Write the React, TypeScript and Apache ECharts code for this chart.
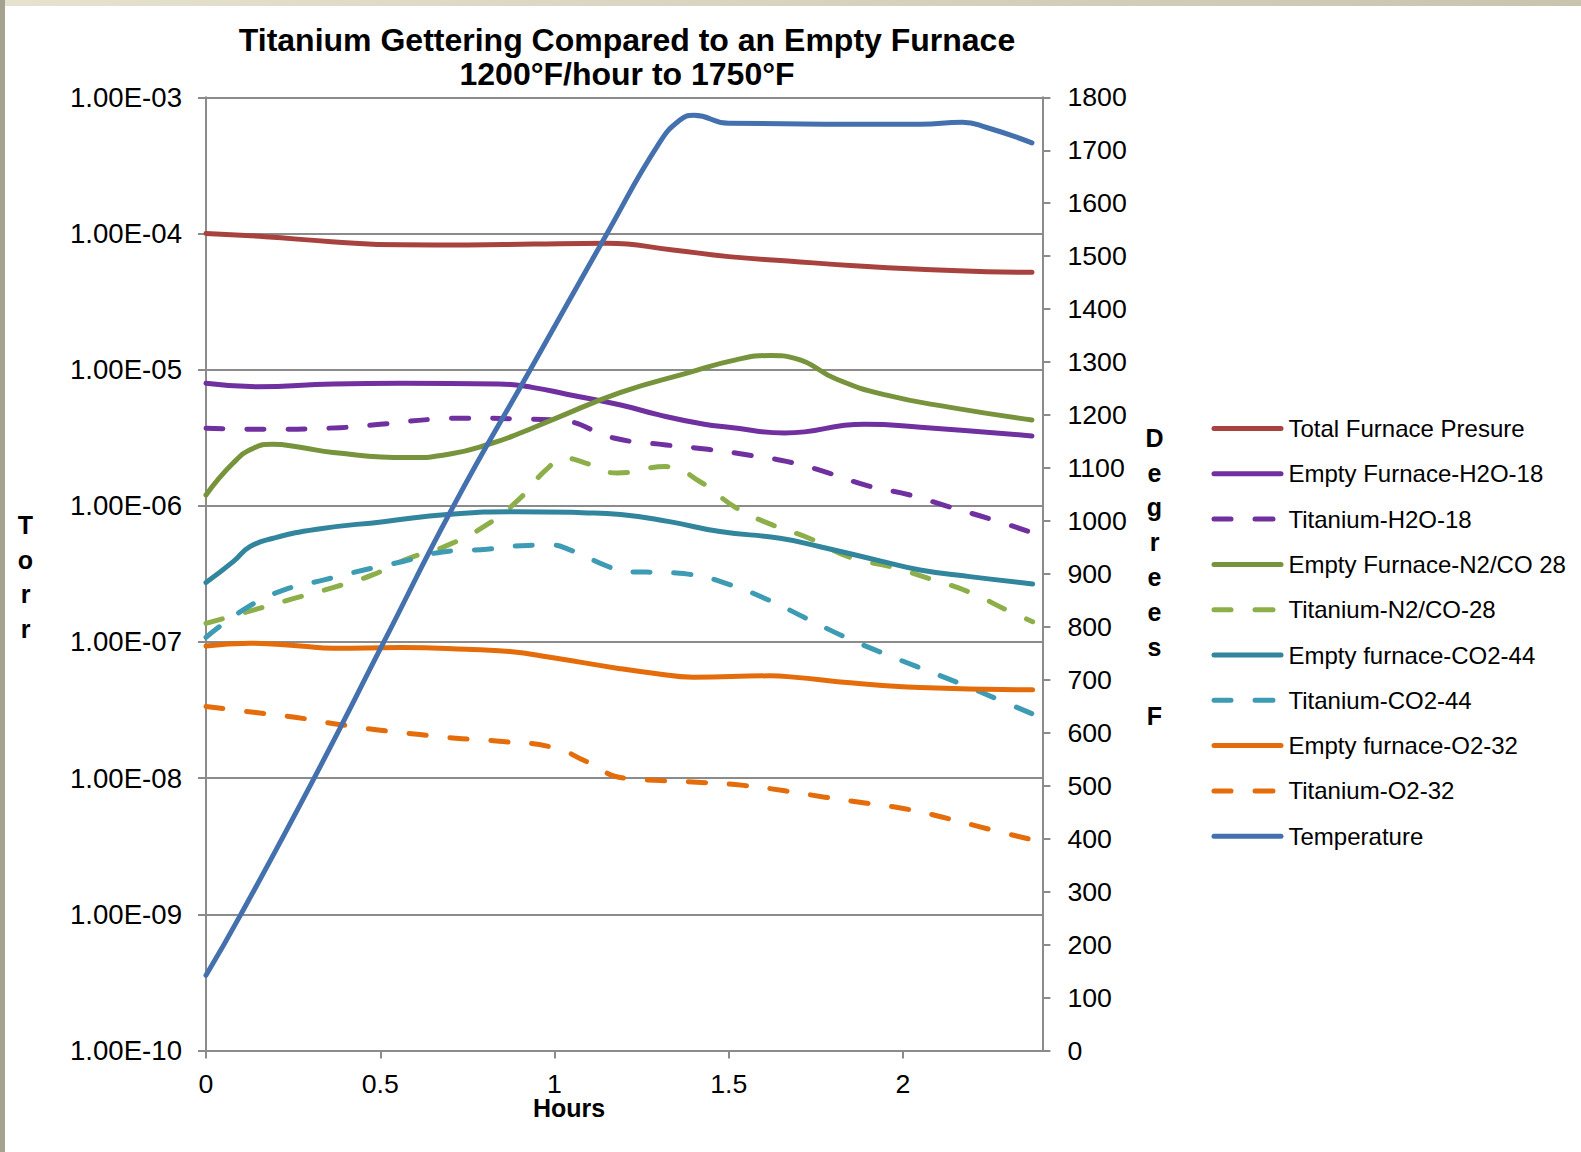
import React, { useEffect, useRef } from "react";
import * as echarts from "echarts";

// ---------- data (hours, value) ----------
const totalFurnacePressure: [number, number][] = [
  [0, 1.0e-4], [0.17, 9.47e-5], [0.36, 8.71e-5], [0.56, 8.25e-5], [0.75, 8.23e-5],
  [0.94, 8.37e-5], [1.15, 8.47e-5], [1.34, 7.57e-5], [1.5, 6.76e-5], [1.67, 6.28e-5],
  [1.86, 5.8e-5], [2.05, 5.46e-5], [2.24, 5.24e-5], [2.37, 5.19e-5],
];
const emptyH2O: [number, number][] = [
  [0, 7.94e-6], [0.145, 7.5e-6], [0.365, 7.85e-6], [0.56, 7.94e-6], [0.84, 7.85e-6],
  [0.94, 7.38e-6], [1.035, 6.6e-6], [1.19, 5.5e-6], [1.3, 4.65e-6], [1.43, 3.97e-6],
  [1.5, 3.78e-6], [1.66, 3.43e-6], [1.89, 3.97e-6], [2.05, 3.78e-6], [2.37, 3.26e-6],
];
const titaniumH2O: [number, number][] = [
  [0, 3.71e-6], [0.17, 3.65e-6], [0.385, 3.75e-6], [0.5, 3.97e-6], [0.65, 4.32e-6],
  [0.75, 4.4e-6], [0.94, 4.32e-6], [1.02, 4.23e-6], [1.17, 3.15e-6], [1.32, 2.8e-6],
  [1.44, 2.6e-6], [1.56, 2.35e-6], [1.68, 2.08e-6], [1.79, 1.73e-6], [1.9, 1.4e-6],
  [2.02, 1.2e-6], [2.13, 9.87e-7], [2.25, 8.01e-7], [2.37, 6.36e-7],
];
const emptyN2CO: [number, number][] = [
  [0, 1.2e-6], [0.078, 2.06e-6], [0.136, 2.65e-6], [0.19, 2.83e-6], [0.27, 2.69e-6],
  [0.365, 2.46e-6], [0.58, 2.26e-6], [0.7, 2.4e-6], [0.82, 2.88e-6], [0.9, 3.41e-6],
  [1.0, 4.35e-6], [1.19, 6.81e-6], [1.38, 9.42e-6], [1.52, 1.18e-5], [1.62, 1.27e-5],
  [1.69, 1.21e-5], [1.81, 8.5e-6], [1.95, 6.52e-6], [2.14, 5.26e-6], [2.37, 4.27e-6],
];
const titaniumN2CO: [number, number][] = [
  [0, 1.37e-7], [0.138, 1.72e-7], [0.25, 2.08e-7], [0.364, 2.51e-7], [0.478, 3.11e-7],
  [0.58, 4.1e-7], [0.686, 5.04e-7], [0.805, 7.24e-7], [0.897, 1.11e-6], [0.977, 1.85e-6],
  [1.03, 2.24e-6], [1.087, 2.07e-6], [1.18, 1.74e-6], [1.32, 1.94e-6], [1.42, 1.49e-6],
  [1.52, 9.7e-7], [1.625, 7.24e-7], [1.736, 5.71e-7], [1.848, 4.18e-7], [1.963, 3.58e-7],
  [2.075, 2.92e-7], [2.189, 2.33e-7], [2.297, 1.72e-7], [2.372, 1.41e-7],
];
const emptyCO2: [number, number][] = [
  [0, 2.73e-7], [0.078, 3.89e-7], [0.126, 5.01e-7], [0.193, 5.78e-7], [0.318, 6.73e-7],
  [0.509, 7.65e-7], [0.7, 8.67e-7], [0.89, 9.06e-7], [1.08, 8.91e-7], [1.19, 8.65e-7],
  [1.33, 7.65e-7], [1.475, 6.47e-7], [1.647, 5.78e-7], [1.762, 5.01e-7], [1.934, 3.94e-7],
  [2.049, 3.38e-7], [2.192, 3.02e-7], [2.372, 2.67e-7],
];
const titaniumCO2: [number, number][] = [
  [0, 1.08e-7], [0.116, 1.78e-7], [0.224, 2.41e-7], [0.339, 2.86e-7], [0.453, 3.38e-7],
  [0.568, 3.92e-7], [0.679, 4.58e-7], [0.806, 4.8e-7], [0.924, 5.12e-7], [0.99, 5.15e-7],
  [1.042, 4.77e-7], [1.152, 3.6e-7], [1.2, 3.27e-7], [1.265, 3.26e-7], [1.383, 3.15e-7],
  [1.498, 2.66e-7], [1.609, 2.06e-7], [1.716, 1.52e-7], [1.826, 1.11e-7], [1.934, 8.45e-8],
  [2.042, 6.56e-8], [2.156, 5.04e-8], [2.267, 3.84e-8], [2.372, 2.96e-8],
];
const emptyO2: [number, number][] = [
  [0, 9.35e-8], [0.126, 9.79e-8], [0.27, 9.35e-8], [0.365, 9.0e-8], [0.557, 9.1e-8],
  [0.748, 8.85e-8], [0.872, 8.51e-8], [0.987, 7.73e-8], [1.188, 6.37e-8], [1.284, 5.9e-8],
  [1.398, 5.52e-8], [1.618, 5.64e-8], [1.685, 5.52e-8], [1.857, 4.99e-8], [2.049, 4.63e-8],
  [2.372, 4.45e-8],
];
const titaniumO2: [number, number][] = [
  [0, 3.36e-8], [0.143, 3.03e-8], [0.26, 2.79e-8], [0.377, 2.49e-8], [0.494, 2.26e-8],
  [0.614, 2.09e-8], [0.734, 1.95e-8], [0.851, 1.86e-8], [1.0, 1.67e-8], [1.09, 1.33e-8],
  [1.2, 1.0e-8], [1.305, 9.6e-9], [1.422, 9.3e-9], [1.542, 8.85e-9], [1.661, 8.07e-9],
  [1.776, 7.25e-9], [1.896, 6.55e-9], [2.015, 5.9e-9], [2.13, 5.04e-9], [2.245, 4.23e-9],
  [2.372, 3.52e-9],
];
const temperature: [number, number][] = [
  [0, 142], [0.1, 257], [0.31, 514], [0.51, 771], [0.71, 1028], [0.93, 1285],
  [1.15, 1542], [1.3, 1713], [1.36, 1757], [1.4, 1766], [1.5, 1751], [2.05, 1749],
  [2.17, 1753], [2.24, 1743], [2.37, 1714],
];

const torrTickExponents = [-10, -9, -8, -7, -6, -5, -4, -3];
const torrTickLabels = [
  "1.00E-10", "1.00E-09", "1.00E-08", "1.00E-07", "1.00E-06", "1.00E-05", "1.00E-04", "1.00E-03",
];

const FONT = "'Liberation Sans', Arial, sans-serif";
const GRID_GREY = "#8B8B8B";

// legend icons (72 x 5 box): a solid rounded bar, or two rounded dashes
const SOLID_ICON =
  "path://M2.5,0 H69.5 A2.5,2.5 0 0 1 69.5,5 H2.5 A2.5,2.5 0 0 1 2.5,0 Z";
const DASH_ICON =
  "path://M2.5,0 H19.5 A2.5,2.5 0 0 1 19.5,5 H2.5 A2.5,2.5 0 0 1 2.5,0 Z " +
  "M43.5,0 H61.5 A2.5,2.5 0 0 1 61.5,5 H43.5 A2.5,2.5 0 0 1 43.5,0 Z M72,0 L72,0 M72,5 L72,5";

type Spec = { name: string; data: [number, number][]; color: string; dashed: boolean; axis: number };
const seriesSpecs: Spec[] = [
  { name: "Total Furnace Presure", data: totalFurnacePressure, color: "#A8423F", dashed: false, axis: 0 },
  { name: "Empty Furnace-H2O-18", data: emptyH2O, color: "#7030A0", dashed: false, axis: 0 },
  { name: "Titanium-H2O-18", data: titaniumH2O, color: "#7030A0", dashed: true, axis: 0 },
  { name: "Empty Furnace-N2/CO 28", data: emptyN2CO, color: "#77933C", dashed: false, axis: 0 },
  { name: "Titanium-N2/CO-28", data: titaniumN2CO, color: "#8DAF4A", dashed: true, axis: 0 },
  { name: "Empty furnace-CO2-44", data: emptyCO2, color: "#31859C", dashed: false, axis: 0 },
  { name: "Titanium-CO2-44", data: titaniumCO2, color: "#3D9BB4", dashed: true, axis: 0 },
  { name: "Empty furnace-O2-32", data: emptyO2, color: "#E46C0A", dashed: false, axis: 0 },
  { name: "Titanium-O2-32", data: titaniumO2, color: "#E46C0A", dashed: true, axis: 0 },
  { name: "Temperature", data: temperature, color: "#4471AE", dashed: false, axis: 1 },
];

export default function App() {
  const ref = useRef<HTMLDivElement>(null);

  useEffect(() => {
    if (!ref.current) return;
    const chart = echarts.init(ref.current, undefined, { renderer: "svg" });

    const option: any = {
      animation: false,
      backgroundColor: "#ffffff",
      grid: { left: 206, top: 97.3, width: 836.4, height: 953.2, containLabel: false },
      legend: {
        orient: "vertical",
        left: 1211.5,
        top: 416.5,
        padding: 0,
        itemWidth: 72,
        itemHeight: 5,
        itemGap: 21.3,
        selectedMode: false,
        symbolKeepAspect: false,
        data: seriesSpecs.map((s) => ({ name: s.name, icon: s.dashed ? DASH_ICON : SOLID_ICON })),
        textStyle: { fontFamily: FONT, fontSize: 24, color: "#000" },
      },
      xAxis: {
        type: "value",
        min: 0,
        max: 2.4,
        interval: 0.5,
        axisLine: { show: true, onZero: false, lineStyle: { color: GRID_GREY, width: 2 } },
        axisTick: { show: true, inside: false, length: 8, lineStyle: { color: GRID_GREY, width: 2 } },
        axisLabel: { showMaxLabel: false, color: "#000", fontFamily: FONT, fontSize: 26.7, margin: 23, lineHeight: 20 },
        splitLine: { show: false },
      },
      yAxis: [
        {
          type: "log",
          logBase: 10,
          min: 1e-10,
          max: 1e-3,
          splitNumber: 7,
          position: "left",
          axisLine: { show: true, lineStyle: { color: GRID_GREY, width: 2 } },
          axisTick: { show: true, inside: false, length: 8, lineStyle: { color: GRID_GREY, width: 2 } },
          axisLabel: {
            color: "#000",
            fontFamily: FONT,
            fontSize: 27.6,
            margin: 24,
            formatter: (v: number) => {
              const e = Math.round(Math.log10(v));
              const i = torrTickExponents.indexOf(e);
              return i >= 0 ? torrTickLabels[i] : "";
            },
          },
          splitLine: { show: true, lineStyle: { color: GRID_GREY, width: 1.8 } },
          minorTick: { show: false },
          minorSplitLine: { show: false },
        },
        {
          type: "value",
          min: 0,
          max: 1800,
          interval: 100,
          position: "right",
          axisLine: { show: true, lineStyle: { color: GRID_GREY, width: 2 } },
          axisTick: { show: true, inside: false, length: 8, lineStyle: { color: GRID_GREY, width: 2 } },
          axisLabel: {
            color: "#000",
            fontFamily: FONT,
            fontSize: 26.7,
            margin: 25,
            formatter: (v: number) => String(v),
          },
          splitLine: { show: false },
        },
      ],
      series: seriesSpecs.map((s) => ({
        name: s.name,
        type: "line",
        data: s.data,
        yAxisIndex: s.axis,
        smooth: 0.5,
        symbol: "none",
        showSymbol: false,
        emphasis: { disabled: true },
        itemStyle: { color: s.color },
        lineStyle: {
          color: s.color,
          width: 5,
          type: s.dashed ? [17, 24] : "solid",
          cap: "round",
          join: "round",
        },
      })),
      graphic: [
        {
          type: "rect",
          shape: { x: 0, y: 0, width: 1581, height: 6 },
          style: {
            fill: new echarts.graphic.LinearGradient(0, 0, 1, 0, [
              { offset: 0, color: "#E6E2D0" },
              { offset: 1, color: "#C9C4AE" },
            ]),
          },
          silent: true,
        },
        {
          type: "rect",
          shape: { x: 0, y: 0, width: 5, height: 1152 },
          style: { fill: "#A6A292" },
          silent: true,
        },
        {
          type: "text",
          x: 627,
          y: 39.5,
          style: {
            text: "Titanium Gettering Compared to an Empty Furnace",
            font: `bold 32px ${FONT}`,
            fill: "#000",
            textAlign: "center",
            textVerticalAlign: "middle",
          },
        },
        {
          type: "text",
          x: 627,
          y: 73.8,
          style: {
            text: "1200°F/hour to 1750°F",
            font: `bold 32px ${FONT}`,
            fill: "#000",
            textAlign: "center",
            textVerticalAlign: "middle",
          },
        },
        {
          type: "text",
          x: 569,
          y: 1108,
          style: {
            text: "Hours",
            font: `bold 25px ${FONT}`,
            lineHeight: 20,
            fill: "#000",
            textAlign: "center",
            textVerticalAlign: "middle",
          },
        },
        {
          type: "text",
          x: 25.5,
          y: 577,
          style: {
            text: "T\no\nr\nr",
            font: `bold 25px ${FONT}`,
            lineHeight: 34.5,
            fill: "#000",
            textAlign: "center",
            textVerticalAlign: "middle",
          },
        },
        {
          type: "text",
          x: 1154.5,
          y: 577,
          style: {
            text: "D\ne\ng\nr\ne\ne\ns\n\nF",
            font: `bold 25px ${FONT}`,
            lineHeight: 34.8,
            fill: "#000",
            textAlign: "center",
            textVerticalAlign: "middle",
          },
        },
      ],
    };

    chart.setOption(option);
    return () => chart.dispose();
  }, []);

  return (
    <div
      ref={ref}
      style={{ position: "absolute", left: 0, top: 0, width: 1581, height: 1152 }}
    />
  );
}
